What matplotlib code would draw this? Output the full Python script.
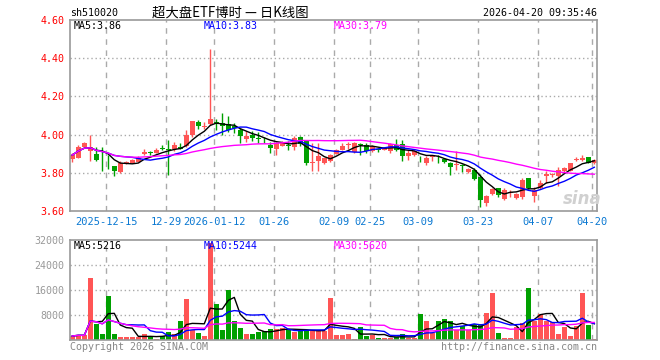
import numpy as np
import pandas as pd
import matplotlib
matplotlib.use("Agg")
import matplotlib.pyplot as plt

# trading days shown (holidays removed from business days)
holidays = ["2026-01-01", "2026-01-02", "2026-02-16", "2026-02-17", "2026-02-18",
            "2026-02-19", "2026-02-20", "2026-02-23", "2026-04-06"]
dates = pd.bdate_range("2025-12-05", "2026-04-20")
dates = dates[~dates.isin(pd.to_datetime(holidays))]

opens = [3.870, 3.879, 3.937, 3.914, 3.900, 3.880, 3.858, 3.833, 3.804, 3.850,
         3.853, 3.858, 3.900, 3.906, 3.905, 3.928, 3.925, 3.922, 3.937, 3.940,
         3.996, 4.068, 4.040, 4.058, 4.068, 4.061, 4.058, 4.047, 4.026, 3.977,
         4.000, 3.979, 3.972, 3.947, 3.925, 3.942, 3.942, 3.933, 3.988, 3.965,
         3.852, 3.860, 3.851, 3.860, 3.900, 3.921, 3.945, 3.907, 3.953, 3.947,
         3.912, 3.922, 3.921, 3.912, 3.947, 3.953, 3.886, 3.895, 3.878, 3.851,
         3.882, 3.884, 3.872, 3.851, 3.840, 3.842, 3.802, 3.816, 3.777, 3.644,
         3.689, 3.719, 3.661, 3.693, 3.667, 3.672, 3.772, 3.679, 3.719, 3.784,
         3.788, 3.784, 3.807, 3.812, 3.866, 3.865, 3.882, 3.851]
highs = [3.905, 3.944, 3.960, 3.996, 3.937, 3.937, 3.891, 3.835, 3.861, 3.862,
         3.870, 3.888, 3.925, 3.912, 3.928, 3.945, 3.970, 3.960, 3.958, 4.025,
         4.072, 4.078, 4.065, 4.450, 4.080, 4.114, 4.100, 4.061, 4.035, 4.018,
         4.018, 4.012, 3.988, 3.960, 3.960, 3.965, 3.965, 3.991, 3.991, 3.968,
         3.956, 3.956, 3.880, 3.900, 3.925, 3.956, 3.960, 3.960, 3.956, 3.956,
         3.944, 3.930, 3.935, 3.955, 3.977, 3.974, 3.921, 3.918, 3.886, 3.886,
         3.895, 3.895, 3.878, 3.855, 3.912, 3.845, 3.823, 3.825, 3.795, 3.684,
         3.719, 3.722, 3.719, 3.711, 3.693, 3.772, 3.775, 3.728, 3.763, 3.807,
         3.798, 3.830, 3.830, 3.851, 3.882, 3.895, 3.884, 3.872]
lows = [3.855, 3.875, 3.935, 3.861, 3.861, 3.809, 3.818, 3.782, 3.800, 3.848,
        3.851, 3.856, 3.895, 3.895, 3.903, 3.918, 3.790, 3.912, 3.923, 3.935,
        3.990, 4.028, 4.030, 4.050, 4.025, 4.000, 4.015, 4.009, 3.956, 3.960,
        3.965, 3.956, 3.956, 3.904, 3.895, 3.938, 3.921, 3.921, 3.939, 3.842,
        3.807, 3.812, 3.845, 3.854, 3.897, 3.918, 3.925, 3.905, 3.895, 3.904,
        3.908, 3.907, 3.918, 3.904, 3.912, 3.860, 3.868, 3.890, 3.854, 3.842,
        3.860, 3.851, 3.850, 3.789, 3.816, 3.802, 3.798, 3.763, 3.619, 3.626,
        3.684, 3.675, 3.658, 3.675, 3.663, 3.665, 3.715, 3.649, 3.714, 3.749,
        3.777, 3.732, 3.800, 3.807, 3.860, 3.860, 3.849, 3.845]
closes = [3.893, 3.935, 3.958, 3.937, 3.867, 3.876, 3.855, 3.807, 3.849, 3.858,
          3.866, 3.875, 3.907, 3.903, 3.920, 3.922, 3.921, 3.945, 3.927, 3.998,
          4.070, 4.045, 4.046, 4.082, 4.058, 4.047, 4.023, 4.035, 3.991, 3.995,
          3.982, 3.977, 3.970, 3.930, 3.956, 3.960, 3.939, 3.982, 3.953, 3.851,
          3.856, 3.886, 3.877, 3.895, 3.921, 3.942, 3.947, 3.956, 3.944, 3.912,
          3.939, 3.920, 3.930, 3.950, 3.921, 3.886, 3.904, 3.912, 3.876, 3.877,
          3.886, 3.881, 3.854, 3.828, 3.844, 3.833, 3.819, 3.767, 3.658, 3.679,
          3.714, 3.684, 3.711, 3.702, 3.689, 3.760, 3.719, 3.711, 3.749, 3.795,
          3.790, 3.816, 3.825, 3.851, 3.868, 3.877, 3.851, 3.868]
volumes = [1280, 1710, 1490, 19730, 5010, 1810, 14080, 2030, 1070, 850,
           850, 1070, 1810, 1280, 430, 1280, 2560, 1810, 6000, 13000,
           3200, 2300, 1400, 31000, 11600, 3300, 16100, 6200, 3900, 2000,
           2000, 2700, 2800, 3600, 3500, 3900, 3600, 2600, 3200, 3200,
           2900, 2900, 2900, 13300, 1450, 1550, 1850, 450, 4200, 1400,
           1700, 800, 700, 800, 900, 2000, 500, 800, 8300, 6000,
           2360, 6200, 6700, 6200, 3200, 4400, 3200, 5000, 5000, 8700,
           15000, 2300, 700, 700, 4200, 5500, 16500, 6000, 8310, 5950,
           5750, 2050, 4300, 1200, 4600, 15000, 4800, 480]

tick_dates = ["2025-12-15", "2025-12-29", "2026-01-12", "2026-01-26", "2026-02-09",
              "2026-02-25", "2026-03-09", "2026-03-23", "2026-04-07", "2026-04-20"]
tick_labels = ["2025-12-15", "12-29", "2026-01-12", "01-26", "02-09",
               "02-25", "03-09", "03-23", "04-07", "04-20"]
price_ticks = [3.6, 3.8, 4.0, 4.2, 4.4, 4.6]
vol_ticks = [8000, 16000, 24000, 32000]

RED = "#ff5555"
GREEN = "#00a000"
GRID = "#aaaaaa"
MONO = "DejaVu Sans Mono"
FS = 7.2

df = pd.DataFrame({"open": opens, "high": highs, "low": lows, "close": closes,
                   "vol": volumes}, index=dates)
x = np.arange(len(df))
up = df["close"] >= df["open"]
colors = np.where(up, RED, GREEN)
ma = {n: df["close"].rolling(n, min_periods=1).mean() for n in (5, 10, 30)}
vma = {n: df["vol"].rolling(n, min_periods=1).mean() for n in (5, 10, 30)}
ma_colors = {5: "black", 10: "#0000ff", 30: "#ff00ff"}

tick_pos = [df.index.get_loc(pd.Timestamp(d)) - 0.35 for d in tick_dates]

W, H = 660, 360
fig = plt.figure(figsize=(6.6, 3.6), dpi=100)
fig.patch.set_facecolor("white")
ax = fig.add_axes([70 / W, 1 - 211 / H, 527 / W, 191 / H])
axv = fig.add_axes([70 / W, 1 - 340 / H, 527 / W, 100 / H])

for a in (ax, axv):
    for s in a.spines.values():
        s.set_color("#999999")
        s.set_linewidth(1.2)
    a.set_xlim(-0.38, 87.45)
    for p in tick_pos:
        a.axvline(p, color=GRID, lw=1, ls=(0, (4, 4)), zorder=0)
    a.tick_params(length=0)

# price panel
for yv in price_ticks[1:-1]:
    ax.axhline(yv, color=GRID, lw=1, ls=(0, (1, 2)), zorder=0)
ax.vlines(x, df["low"], df["high"], colors=colors, lw=1, zorder=2)
body = np.maximum((df["close"] - df["open"]).abs(), 0.004)
ax.bar(x, body, bottom=np.minimum(df["open"], df["close"]), width=0.75,
       color=colors, linewidth=0, zorder=2)
for n in (5, 10, 30):
    ax.plot(x, ma[n], color=ma_colors[n], lw=1, zorder=3)
ax.set_ylim(3.6, 4.6)
ax.set_yticks(price_ticks)
ax.set_yticklabels([f"{v:.2f}" for v in price_ticks], color="red",
                   family=MONO, fontsize=FS)
ax.tick_params(axis="y", pad=4)
ax.set_xticks(tick_pos)
ax.set_xticklabels(tick_labels, color="#0a78d2", family=MONO, fontsize=FS + 0.3)
ax.tick_params(axis="x", pad=4)

# volume panel
for yv in vol_ticks[:-1]:
    axv.axhline(yv, color=GRID, lw=1, ls=(0, (1, 2)), zorder=0)
axv.bar(x, df["vol"], width=0.8, color=colors, linewidth=0, zorder=2)
for n in (5, 10, 30):
    axv.plot(x, vma[n], color=ma_colors[n], lw=1, zorder=3)
axv.set_ylim(0, 32000)
axv.set_yticks(vol_ticks)
axv.set_yticklabels([str(v) for v in vol_ticks], color="#999999",
                    family=MONO, fontsize=FS)
axv.tick_params(axis="y", pad=4)
axv.set_xticks([])

# texts
def ftext(px, py, s, **kw):
    kw.setdefault("family", MONO)
    kw.setdefault("fontsize", FS)
    kw.setdefault("va", "center")
    fig.text(px / W, 1 - py / H, s, **kw)

ftext(70, 13, "sh510020")
ftext(230, 13, "超大盘ETF博时 — 日K线图", ha="center",
      family=["Noto Sans CJK SC", "DejaVu Sans"], fontsize=9.6)
ftext(597, 13, "2026-04-20 09:35:46", ha="right")

for i, n in enumerate((5, 10, 30)):
    ftext(74 + 130 * i, 26, f"MA{n}:{ma[n].iloc[-1]:.2f}", color=ma_colors[n])
    ftext(74 + 130 * i, 246, f"MA{n}:{vma[n].iloc[-1]:.0f}", color=ma_colors[n])

ftext(70, 347, "Copyright 2026 SINA.COM", color="#888888")
ftext(597, 347, "http://finance.sina.com.cn", ha="right", color="#888888")
ftext(582, 199, "sina", ha="center", color="#d0d0d0", fontsize=12,
      family="DejaVu Sans", style="italic", weight="bold")

fig.savefig("out.png", dpi=100)
